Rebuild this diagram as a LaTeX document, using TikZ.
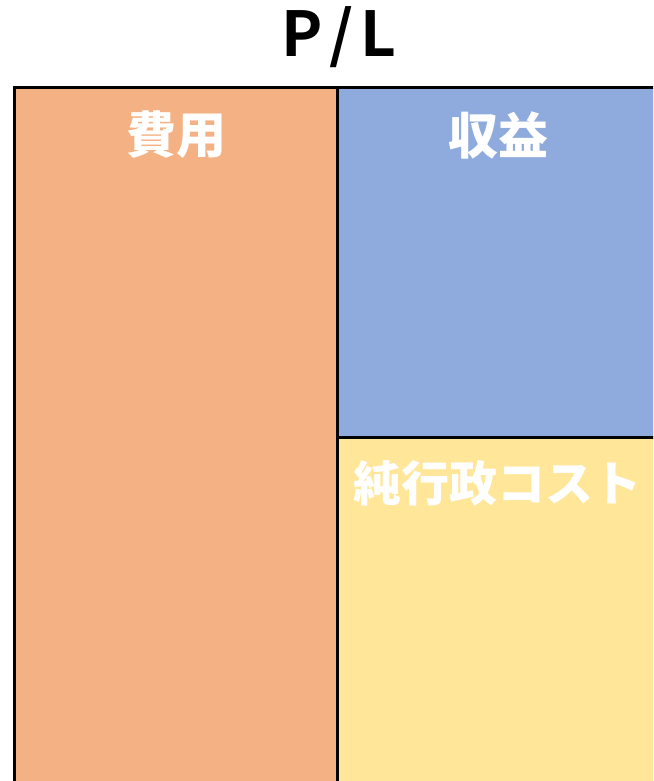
\documentclass[tikz,border=0pt]{standalone}
\usepackage{fontspec}
\newfontfamily\cjk{Noto Sans CJK JP}[BoldFont={Noto Sans CJK JP Black}]
\newfontfamily\cjkttl{Noto Sans CJK JP Bold}
\definecolor{costc}{HTML}{F4B183}
\definecolor{revc}{HTML}{8FAADC}
\definecolor{netc}{HTML}{FFE699}
\begin{document}
\begin{tikzpicture}[x=1pt,y=-1pt,
  panel/.style={draw=black,line width=3pt},
  lbl/.style={text=white,font=\cjk\bfseries\fontsize{50}{50}\selectfont,inner sep=0pt,anchor=center}]
\useasboundingbox (0,0) rectangle (653,781);
\clip (0,0) rectangle (653,781);
\node[font=\cjkttl\fontsize{62}{62}\selectfont,inner sep=0pt] (title) at (339,37) {P\kern7pt/\kern7pt L};
\draw[panel,fill=costc] (14,88) rectangle (337,800);
\draw[panel,fill=revc] (337,88) rectangle (670,437);
\draw[panel,fill=netc] (337,437) rectangle (670,800);
\node[lbl] (cost) at (176,135) {費用};
\node[lbl] (rev) at (498,135) {収益};
\node[lbl,font=\cjk\bfseries\fontsize{48}{48}\selectfont] (net) at (497,483) {純行政コスト};
\end{tikzpicture}
\end{document}
